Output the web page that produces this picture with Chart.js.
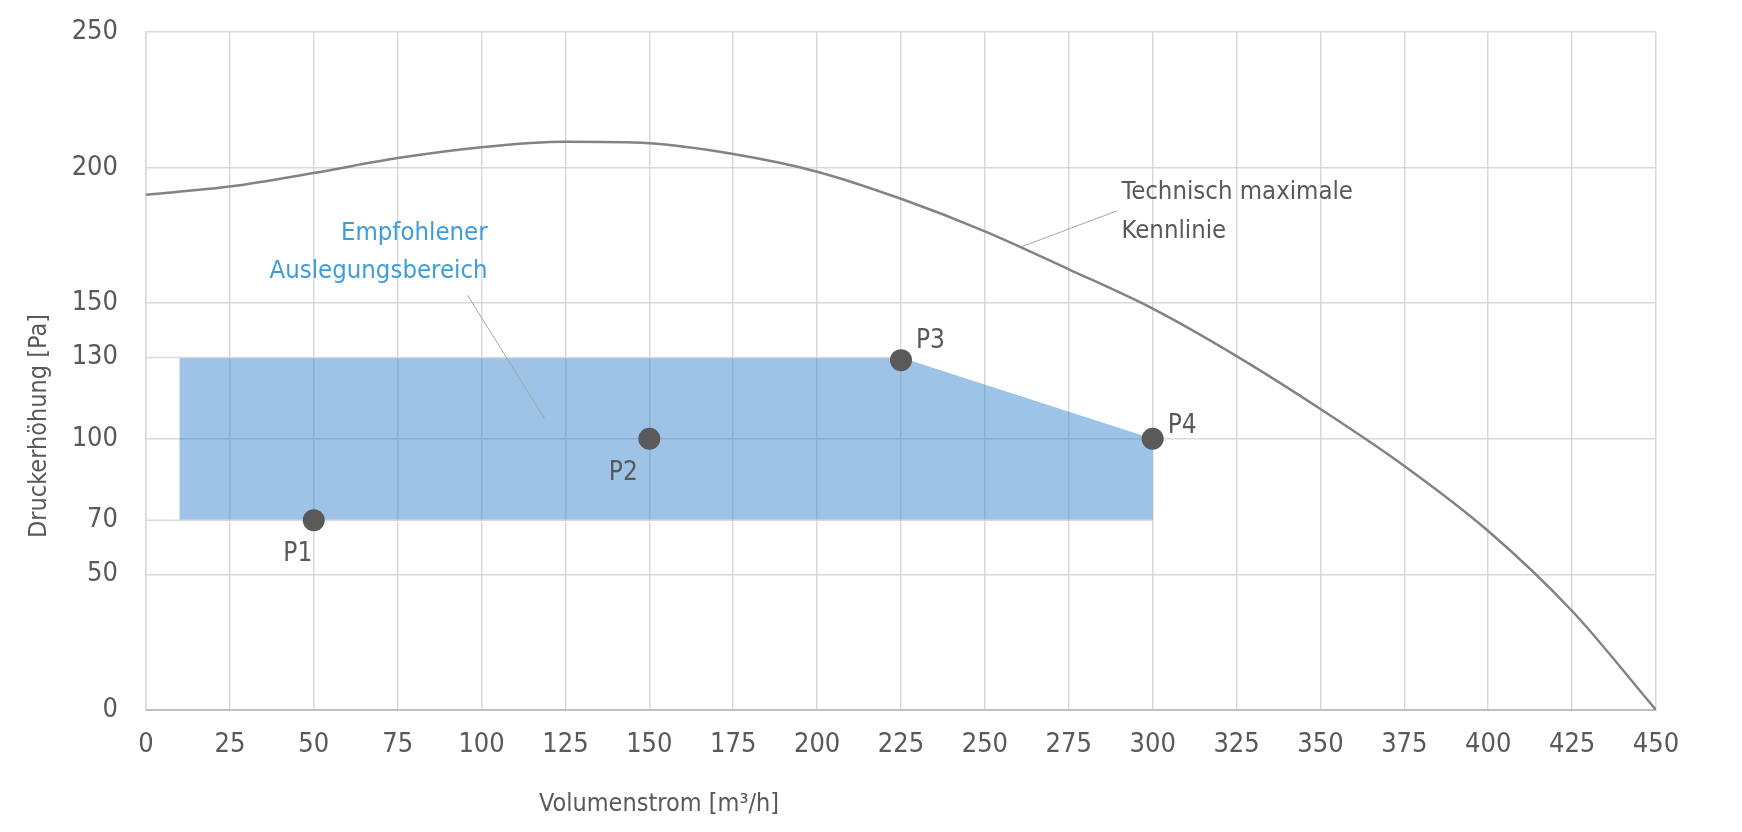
<!DOCTYPE html>
<html>
<head>
<meta charset="utf-8">
<script src="https://cdn.jsdelivr.net/npm/chart.js@4.4.1/dist/chart.umd.min.js"></script>
<style>
  html, body { margin: 0; padding: 0; background: #fff; }
  #wrap { width: 1742px; height: 832px; }
</style>
</head>
<body>
<div id="wrap"><canvas id="myChart" width="1742" height="832"></canvas></div>
<script>
// fan curve (Technisch maximale Kennlinie)
const flowX = [0, 25, 50, 75, 100, 125, 150, 175, 200, 225, 250, 275, 300, 325, 350, 375, 400, 425, 450];
const curvePa = [190, 193, 198, 203.5, 207.5, 209.5, 209, 205, 198.5, 188.5, 176.5, 162.5, 148, 130.5, 111, 90, 66, 36.5, 0];

// operating points
const pointNames = ["P1", "P2", "P3", "P4"];
const pointFlow = [50, 150, 225, 300];
const pointPa = [70, 100, 129, 100];

// recommended design range (polygon)
const areaFlow = [10, 10, 225, 300, 300];
const areaPa = [70, 130, 130, 100, 70];

const xTicks = [0, 25, 50, 75, 100, 125, 150, 175, 200, 225, 250, 275, 300, 325, 350, 375, 400, 425, 450];
const yTicks = [0, 50, 70, 100, 130, 150, 200, 250];
const yGridOnly = [0, 50, 100, 150, 200, 250];

const FONT = "'DejaVu Sans Condensed', 'DejaVu Sans', sans-serif";
const TEXT = "#595959";
const GRID = "#d9d9d9";

Chart.defaults.font.family = FONT;
Chart.defaults.color = TEXT;

const toXY = (xs, ys) => xs.map((x, i) => ({ x: x, y: ys[i] }));

// label placement next to the points (pixel offsets)
const labelPos = {
  P1: { dx: -16, dy: 34, align: "center" },
  P2: { dx: -26, dy: 34, align: "center" },
  P3: { dx: 15, dy: -19, align: "left" },
  P4: { dx: 15, dy: -13, align: "left" },
};

const notes = {
  id: "notes",
  afterDatasetsDraw(chart) {
    const { ctx, scales } = chart;
    const X = v => scales.x.getPixelForValue(v);
    const Y = v => scales.y.getPixelForValue(v);
    ctx.save();

    // leader lines
    ctx.strokeStyle = "#a6a6a6";
    ctx.lineWidth = 1;
    ctx.beginPath();
    ctx.moveTo(X(95.8), Y(153));
    ctx.lineTo(X(118.8), Y(107.4));
    ctx.moveTo(X(289.5), Y(184.1));
    ctx.lineTo(X(260.9), Y(170.8));
    ctx.stroke();

    ctx.textBaseline = "middle";
    ctx.font = "26px " + FONT;

    // point labels
    ctx.fillStyle = TEXT;
    pointNames.forEach((name, i) => {
      const p = labelPos[name];
      ctx.textAlign = p.align;
      ctx.fillText(name, X(pointFlow[i]) + p.dx, Y(pointPa[i]) + p.dy);
    });

    ctx.font = "25.5px " + FONT;
    // range note
    ctx.fillStyle = "#3d9dd9";
    ctx.textAlign = "right";
    ctx.fillText("Empfohlener", X(101.8), Y(175.9));
    ctx.fillText("Auslegungsbereich", X(101.8), Y(161.7));

    // curve note
    ctx.fillStyle = TEXT;
    ctx.textAlign = "left";
    ctx.fillText("Technisch maximale", X(290.7), Y(190.7));
    ctx.fillText("Kennlinie", X(290.7), Y(176.4));

    // axis titles
    ctx.font = "25px " + FONT;
    ctx.textAlign = "center";
    ctx.fillText("Volumenstrom [m³/h]", 659, 804);
    ctx.translate(39, 426);
    ctx.rotate(-Math.PI / 2);
    ctx.fillText("Druckerhöhung [Pa]", 0, 0);
    ctx.restore();
  }
};

new Chart(document.getElementById("myChart"), {
  type: "line",
  data: {
    datasets: [
      {
        label: "Kennlinie",
        data: toXY(flowX, curvePa),
        borderColor: "#838383",
        borderWidth: 2.5,
        pointRadius: 0,
        cubicInterpolationMode: "monotone",
        fill: false,
        order: 2,
      },
      {
        label: "Punkte",
        data: toXY(pointFlow, pointPa),
        showLine: false,
        pointRadius: 11,
        pointBackgroundColor: "#5a5a5a",
        pointBorderWidth: 0,
        order: 0,
      },
      {
        label: "Hilfslinie 130",
        data: toXY([0, areaFlow[2]], [areaPa[1], areaPa[2]]),
        borderColor: GRID,
        borderWidth: 1.5,
        pointRadius: 0,
        order: 1,
      },
      {
        label: "Hilfslinie 70",
        data: toXY([0, areaFlow[4]], [areaPa[0], areaPa[4]]),
        borderColor: GRID,
        borderWidth: 1.5,
        pointRadius: 0,
        order: 1,
      },
      {
        label: "Auslegungsbereich",
        data: toXY(areaFlow, areaPa),
        borderWidth: 0,
        borderColor: "rgba(0,0,0,0)",
        backgroundColor: "rgba(47,128,202,0.47)",
        pointRadius: 0,
        tension: 0,
        fill: "shape",
        order: 3,
      },
    ],
  },
  options: {
    responsive: false,
    animation: false,
    layout: { padding: { left: 0, right: 86, top: 32, bottom: 0 } },
    plugins: {
      legend: { display: false },
      tooltip: { enabled: false },
    },
    scales: {
      x: {
        type: "linear",
        min: 0,
        max: 450,
        afterBuildTicks: s => { s.ticks = xTicks.map(v => ({ value: v })); },
        afterFit: s => { s.height = 122; s.paddingLeft = 0; s.paddingRight = 0; },
        grid: { color: GRID, lineWidth: 1.5, drawTicks: false },
        border: { color: "#bfbfbf", width: 2 },
        ticks: { padding: 19, font: { size: 27 }, color: TEXT, maxRotation: 0 },
      },
      y: {
        type: "linear",
        min: 0,
        max: 250,
        afterBuildTicks: s => { s.ticks = yTicks.map(v => ({ value: v })); },
        afterFit: s => { s.width = 146; s.paddingTop = 0; s.paddingBottom = 0; },
        grid: {
          color: c => (yGridOnly.includes(c.tick.value) ? GRID : "rgba(0,0,0,0)"),
          lineWidth: 1.5,
          drawTicks: false,
        },
        border: { color: GRID, width: 1.5 },
        ticks: { padding: 28, font: { size: 27 }, color: TEXT },
      },
    },
  },
  plugins: [notes],
});
</script>
</body>
</html>
